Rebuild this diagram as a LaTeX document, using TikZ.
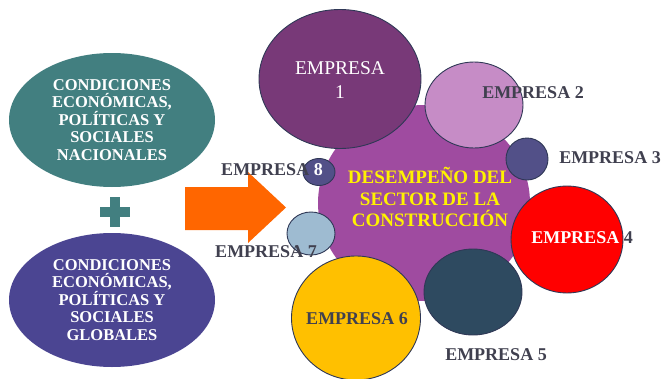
\documentclass[tikz,border=0pt]{standalone}
\usepackage{fontspec}
\setmainfont{Liberation Serif}
\usetikzlibrary{shapes.geometric}

\definecolor{nacional}{HTML}{427F80}
\definecolor{global}{HTML}{4B4592}
\definecolor{sector}{HTML}{9F4BA0}
\definecolor{emp1}{HTML}{783978}
\definecolor{emp2}{HTML}{C68CC6}
\definecolor{emp3}{HTML}{525088}
\definecolor{emp5}{HTML}{2E4A60}
\definecolor{emp6}{HTML}{FFC000}
\definecolor{emp7}{HTML}{9EBBD1}
\definecolor{etiqueta}{HTML}{40404F}
\definecolor{borde}{HTML}{2F3856}
\definecolor{flecha}{HTML}{FF6600}

\tikzset{
    burbuja/.style={ellipse, inner sep=0pt, draw=borde, line width=0.9pt},
    condicion/.style={ellipse, inner sep=0pt, minimum width=206pt, minimum height=134pt, align=center,
        text=white, font=\bfseries\fontsize{16.5}{17.5}\selectfont},
    rotulo/.style={text=etiqueta, inner sep=0pt, font=\bfseries\fontsize{18}{20}\selectfont}
}

\begin{document}
\begin{tikzpicture}[x=1pt, y=-1pt]
    \useasboundingbox (0, 0) rectangle (662, 378);

    \node[condicion, fill=nacional] (nac) at (112, 120) {CONDICIONES\\ECONÓMICAS,\\POLÍTICAS Y\\SOCIALES\\NACIONALES};
    \node[condicion, fill=global] (glo) at (112, 300) {CONDICIONES\\ECONÓMICAS,\\POLÍTICAS Y\\SOCIALES\\GLOBALES};

    \fill[nacional] (100, 207) rectangle (130, 217);
    \fill[nacional] (110, 197) rectangle (120, 227);

    \fill[flecha] (185, 187) -- (248, 187) -- (248, 172) -- (286, 207.5) -- (248, 243) -- (248, 230) -- (185, 230) -- cycle;

    \node[ellipse, inner sep=0pt, fill=sector, minimum width=212pt, minimum height=196pt] (sector) at (424, 203) {};
    \node[align=center, text=yellow, font=\bfseries\fontsize{19}{21.5}\selectfont] (sectxt) at (430, 197)
        {DESEMPEÑO DEL\\SECTOR DE LA\\CONSTRUCCIÓN};

    \node[burbuja, fill=emp1, minimum width=162pt, minimum height=139pt] (e1) at (340, 79) {};
    \node[burbuja, fill=emp2, minimum width=98pt, minimum height=86pt] (e2) at (474, 105) {};
    \node[burbuja, fill=emp3, minimum width=42pt, minimum height=42pt] (e3) at (527, 159) {};
    \node[burbuja, fill=red, minimum width=112pt, minimum height=107pt] (e4) at (567, 239.5) {};
    \node[burbuja, fill=emp5, minimum width=98pt, minimum height=86pt] (e5) at (473, 292) {};
    \node[burbuja, fill=emp6, minimum width=129pt, minimum height=124pt] (e6) at (356, 318) {};
    \node[burbuja, fill=emp7, minimum width=48pt, minimum height=43pt] (e7) at (311, 233.5) {};
    \node[burbuja, fill=emp3, minimum width=32pt, minimum height=27pt] (e8) at (319, 172) {};

    \node[align=center, text=white, font=\fontsize{19.5}{24}\selectfont] (t1) at (e1) [yshift=-1pt] {EMPRESA\\1};
    \node[rotulo] (t2) at (533, 93) {EMPRESA 2};
    \node[rotulo] (t3) at (610, 158) {EMPRESA 3};
    \node[rotulo] (t4) at (582, 238) {\textcolor{white}{EMPRESA} 4};
    \node[rotulo] (t5) at (496, 355) {EMPRESA 5};
    \node[rotulo] (t6) at (357, 319) {EMPRESA 6};
    \node[rotulo] (t7) at (266, 252) {EMPRESA 7};
    \node[rotulo] (t8) at (272, 170) {EMPRESA \textcolor{white}{8}};
\end{tikzpicture}
\end{document}
